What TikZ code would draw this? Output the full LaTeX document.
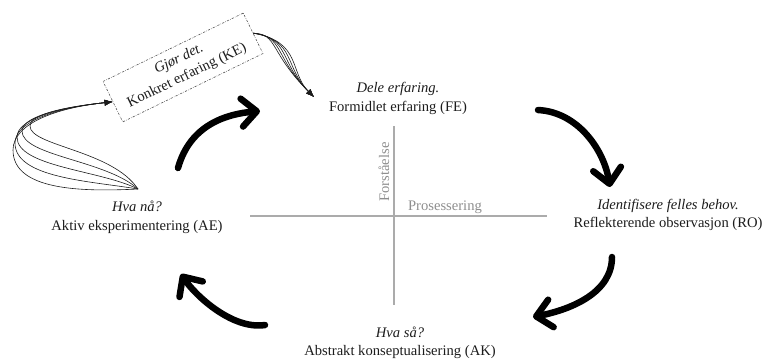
\documentclass[tikz,border=0pt]{standalone}
\usepackage{fontspec}
\setmainfont{Liberation Serif}
\usetikzlibrary{arrows.meta,calc}

\definecolor{ink}{HTML}{1C1C1C}
\definecolor{axisgray}{HTML}{ABABAB}
\definecolor{labelgray}{HTML}{8E8E8E}

\newcommand{\labelfont}{\fontsize{14.6}{18.5}\selectfont}

\tikzset{
  stage/.style={align=center, text=ink, font=\labelfont, inner sep=0pt},
  cyclearrow/.style={draw=black, line width=6.5pt, line cap=round, line join=round,
    -{Straight Barb[length=15pt,width=28pt,round]}},
  strand/.style={draw=ink, line width=0.6pt, -{Latex[length=8pt,width=6pt]}},
  axisline/.style={draw=axisgray, line width=1.1pt},
  axislabel/.style={text=labelgray, font=\labelfont, inner sep=0pt},
  notebox/.style={draw=ink!75, line width=0.6pt,
    dash pattern=on 2.2pt off 1.3pt on 0.5pt off 1.3pt,
    align=center, text=ink, font=\labelfont, inner sep=0pt,
    minimum width=156pt, minimum height=45pt, rotate=26},
}

\begin{document}
\begin{tikzpicture}[x=1pt, y=-1pt]
  \useasboundingbox (0,0) rectangle (772,360);

  % quadrant axes
  \coordinate (axL) at (250,216);
  \coordinate (axR) at (547,216);
  \coordinate (axT) at (394,126);
  \coordinate (axB) at (394,305);
  \draw[axisline] (axL) -- (axR);
  \draw[axisline] (axT) -- (axB);
  \node[axislabel, rotate=90] (und) at (384,172) {Forståelse};
  \node[axislabel] (pros) at (445,207) {Prosessering};

  % the four stages
  \node[stage] (fe) at (398,98.5) {\textit{Dele erfaring.}\\Formidlet erfaring (FE)};
  \node[stage] (ro) at (668,215) {\textit{Identifisere felles behov.}\\Reflekterende observasjon (RO)};
  \node[stage] (ak) at (400,343) {\textit{Hva så?}\\Abstrakt konseptualisering (AK)};
  \node[stage] (ae) at (137,217.5) {\textit{Hva nå?}\\Aktiv eksperimentering (AE)};

  % concrete experience, tilted note
  \node[notebox] (ke) at (183,67.5) {\textit{Gjør det.}\\Konkret erfaring (KE)};

  % thick cycle arrows
  \coordinate (s1) at (178,168);  \coordinate (t1) at (260,111);
  \coordinate (s2) at (538,110);  \coordinate (t2) at (610,187);
  \coordinate (s3) at (612,257);  \coordinate (t3) at (533,317);
  \coordinate (s4) at (265,325);  \coordinate (t4) at (181,274);
  \draw[cyclearrow] (s1) .. controls (190,125) and (226,114) .. (t1);
  \draw[cyclearrow] (s2) .. controls (578,112) and (604,150) .. (t2);
  \draw[cyclearrow] (s3) .. controls (612,292) and (573,309) .. (t3);
  \draw[cyclearrow] (s4) .. controls (232,330) and (195,295) .. (t4);

  % bundle of strands looping from AE round to the note
  \coordinate (aeTop) at (138,189);
  \draw[strand] (aeTop) .. controls (80,192)  and (13,190) .. (13,150)
                        .. controls (13,124)  and (55,108) .. (ke.west);
  \draw[strand] (aeTop) .. controls (90,181)  and (15,178) .. (15,143)
                        .. controls (15,122)  and (55,108) .. (ke.west);
  \draw[strand] (aeTop) .. controls (100,170) and (17,167) .. (17,137)
                        .. controls (17,120)  and (55,108) .. (ke.west);
  \draw[strand] (aeTop) .. controls (106,160) and (22,156) .. (22,131)
                        .. controls (22,118)  and (55,108) .. (ke.west);
  \draw[strand] (aeTop) .. controls (112,150) and (30,146) .. (30,126)
                        .. controls (30,116)  and (55,108) .. (ke.west);

  % bundle of strands from the note down to FE
  \coordinate (feIn) at (314,97);
  \draw[strand] (ke.east) .. controls (278,34) and (269,52) .. (feIn);
  \draw[strand] (ke.east) .. controls (284,36) and (274,57) .. (feIn);
  \draw[strand] (ke.east) .. controls (290,38) and (279,62) .. (feIn);
  \draw[strand] (ke.east) .. controls (296,40) and (284,67) .. (feIn);
  \draw[strand] (ke.east) .. controls (302,42) and (289,72) .. (feIn);
\end{tikzpicture}
\end{document}
